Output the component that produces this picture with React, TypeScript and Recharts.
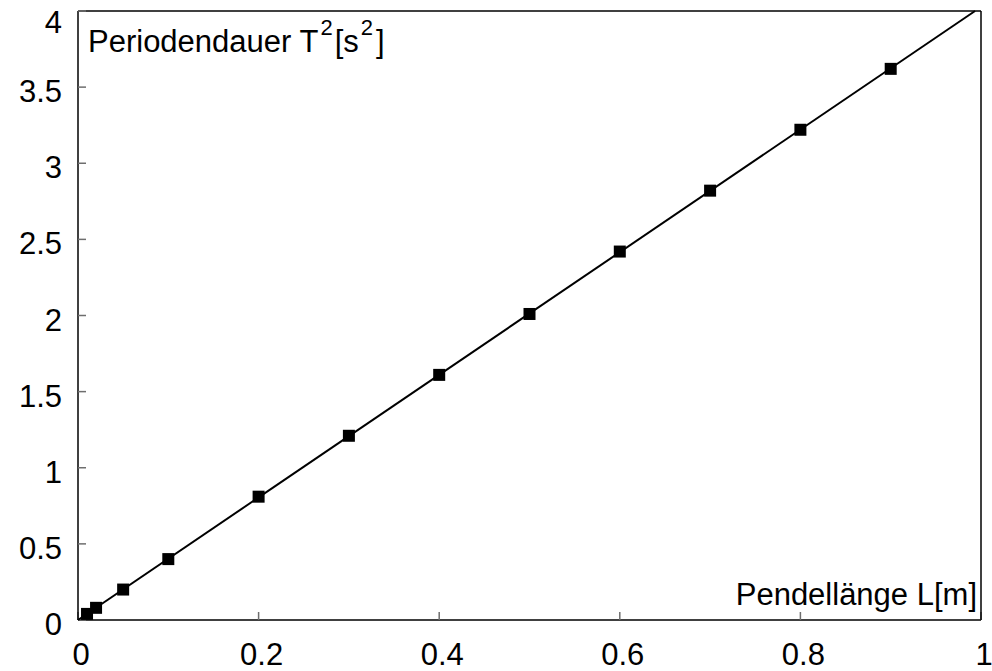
import { ScatterChart, Scatter, XAxis, YAxis } from "recharts";

// pendulum length L [m] and measured T^2 [s^2]
const lengths = [0.01, 0.02, 0.05, 0.1, 0.2, 0.3, 0.4, 0.5, 0.6, 0.7, 0.8, 0.9];
const periodSquared = [0.04, 0.08, 0.2, 0.4, 0.81, 1.21, 1.61, 2.01, 2.42, 2.82, 3.22, 3.62];

// fitted line, drawn from the origin to where it leaves the box
const fitX = [0, 0.9934];
const fitY = [0, 4];

const xTicks = [0, 0.2, 0.4, 0.6, 0.8, 1];
const yTicks = [0, 0.5, 1, 1.5, 2, 2.5, 3, 3.5, 4];

const points = lengths.map((x, i) => ({ x, y: periodSquared[i] }));
const fit = fitX.map((x, i) => ({ x, y: fitY[i] }));

const FONT = "Arial, 'Liberation Sans', sans-serif";
const TICK_GRAY = "#6e6e6e";

const Square = (props: any) => {
    const { cx, cy } = props;
    return <rect x={cx - 6} y={cy - 6} width={12} height={12} fill="#000" />;
};

export default function App() {
    return (
        <div style={{ position: "absolute", left: 0, top: 0, background: "#fff" }}>
            <ScatterChart width={992} height={671} margin={{ top: 11, right: 11, left: 0, bottom: 0 }}>
                <XAxis
                    type="number"
                    dataKey="x"
                    domain={[0, 1]}
                    ticks={xTicks}
                    height={51}
                    tickSize={-8}
                    tickMargin={31}
                    tickLine={{ stroke: TICK_GRAY, strokeWidth: 1.5 }}
                    axisLine={{ stroke: "#000", strokeWidth: 1.5 }}
                    tick={{ fontSize: 31, fill: "#000", fontFamily: FONT, dx: 3 }}
                />
                <XAxis
                    xAxisId="top"
                    type="number"
                    orientation="top"
                    mirror
                    domain={[0, 1]}
                    ticks={xTicks}
                    tickSize={8}
                    tickFormatter={() => ""}
                    tickLine={{ stroke: TICK_GRAY, strokeWidth: 1.5 }}
                    axisLine={{ stroke: "#000", strokeWidth: 1.5 }}
                />
                <YAxis
                    type="number"
                    dataKey="y"
                    domain={[0, 4]}
                    ticks={yTicks}
                    width={78}
                    tickSize={-8}
                    tickMargin={24}
                    tickLine={{ stroke: TICK_GRAY, strokeWidth: 1.5 }}
                    axisLine={{ stroke: "#000", strokeWidth: 1.5 }}
                    tick={{ fontSize: 31, fill: "#000", fontFamily: FONT, dy: 4 }}
                />
                <YAxis
                    yAxisId="right"
                    type="number"
                    orientation="right"
                    mirror
                    domain={[0, 4]}
                    ticks={yTicks}
                    tickSize={8}
                    tickFormatter={() => ""}
                    tickLine={{ stroke: TICK_GRAY, strokeWidth: 1.5 }}
                    axisLine={{ stroke: "#000", strokeWidth: 1.5 }}
                />
                <Scatter
                    data={fit}
                    line={{ stroke: "#000", strokeWidth: 2 }}
                    shape={() => <g />}
                    isAnimationActive={false}
                />
                <Scatter data={points} shape={Square} isAnimationActive={false} />
                <text x={88} y={52} fontSize={31} fontFamily={FONT} fill="#000">
                    Periodendauer T
                    <tspan dx={2} dy={-17} fontSize={22}>2</tspan>
                    <tspan dx={2} dy={17}>[s</tspan>
                    <tspan dx={2} dy={-17} fontSize={22}>2</tspan>
                    <tspan dx={3} dy={17}>]</tspan>
                </text>
                <text x={977} y={605} fontSize={31} fontFamily={FONT} fill="#000" textAnchor="end">
                    Pendellänge L[m]
                </text>
            </ScatterChart>
        </div>
    );
}
